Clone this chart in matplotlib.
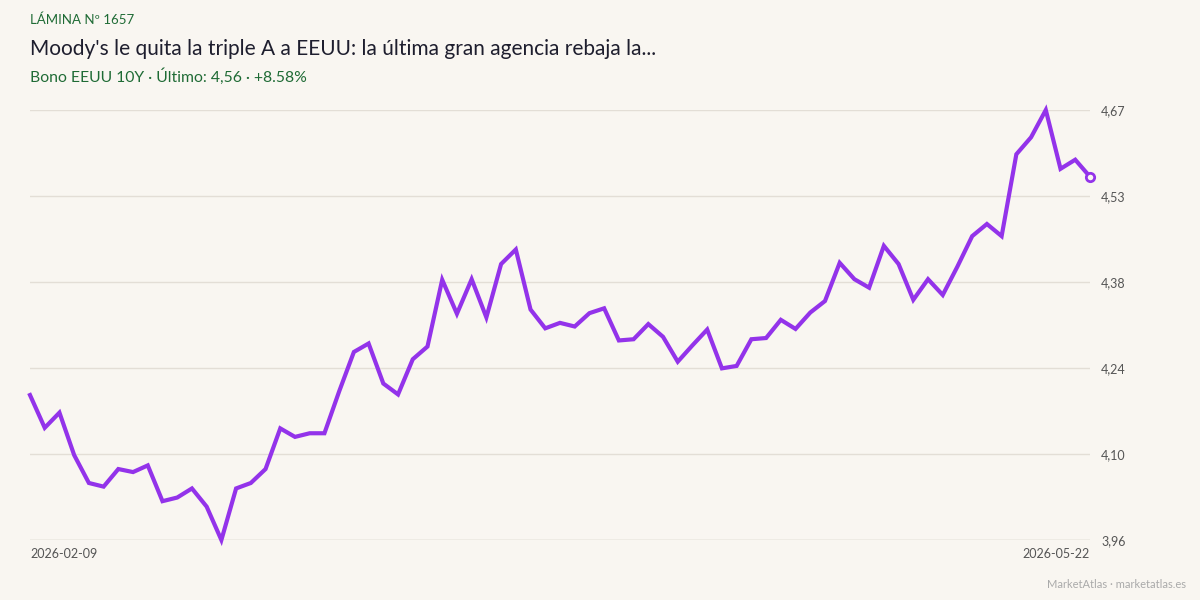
import matplotlib.pyplot as plt
import numpy as np
import pandas as pd

# Bono EEUU 10Y, cierres diarios (dias habiles)
start_date = "2026-02-09"
end_date = "2026-05-22"
holidays = ["2026-02-16", "2026-04-03"]
yields = [
    4.197, 4.143, 4.168, 4.098, 4.052, 4.046, 4.075, 4.070, 4.081, 4.022,
    4.028, 4.043, 4.013, 3.958, 4.043, 4.052, 4.075, 4.142, 4.128, 4.134,
    4.134, 4.203, 4.268, 4.282, 4.216, 4.198, 4.256, 4.277, 4.387, 4.331,
    4.388, 4.325, 4.413, 4.437, 4.338, 4.307, 4.316, 4.310, 4.332, 4.340,
    4.287, 4.289, 4.314, 4.293, 4.252, 4.279, 4.305, 4.241, 4.245, 4.289,
    4.291, 4.321, 4.306, 4.333, 4.352, 4.415, 4.388, 4.374, 4.443, 4.413,
    4.354, 4.388, 4.362, 4.409, 4.459, 4.479, 4.459, 4.594, 4.622, 4.667,
    4.570, 4.585, 4.557,
]

dates = pd.bdate_range(start_date, end_date)
dates = dates[~dates.isin(pd.to_datetime(holidays))]
y = np.array(yields)
x = np.arange(len(y))

bg = "#f9f6f1"
purple = "#9333ea"
green = "#1f6b35"

plt.rcParams["font.family"] = ["Lato", "DejaVu Sans"]

fig = plt.figure(figsize=(12, 6), dpi=100, facecolor=bg)
ax = fig.add_axes([0.025, 0.1, 0.8833, 0.7167], facecolor=bg)

ax.plot(x, y, color=purple, linewidth=3, solid_joinstyle="miter", zorder=3, clip_on=False)
ax.plot(x[-1], y[-1], "o", markersize=6, markerfacecolor=bg,
        markeredgecolor=purple, markeredgewidth=2, zorder=4, clip_on=False)

ymin, ymax = y.min(), y.max()
ax.set_ylim(ymin, ymax)
ax.set_xlim(0, len(y) - 1)
yticks = np.linspace(ymin, ymax, 6)
ax.set_yticks(yticks)
ax.set_yticklabels([f"{t:.2f}".replace(".", ",") for t in yticks])
ax.yaxis.tick_right()
ax.tick_params(axis="y", length=0, pad=8, labelsize=9, labelcolor="#555555")
ax.grid(axis="y", color="#e3ded6", linewidth=1)
ax.set_axisbelow(True)

ax.set_xticks([0, len(y) - 1])
ax.set_xticklabels([dates[0].strftime("%Y-%m-%d"), dates[-1].strftime("%Y-%m-%d")])
ax.tick_params(axis="x", length=0, pad=6, labelsize=9, labelcolor="#555555")
labels = ax.get_xticklabels()
labels[0].set_horizontalalignment("left")
labels[1].set_horizontalalignment("right")

for s in ax.spines.values():
    s.set_visible(False)
ax.axhline(ymin, color="#d9d4cc", linewidth=1, zorder=1)

pct = (y[-1] / y[0] - 1) * 100
fig.text(0.025, 0.967, "LÁMINA Nº 1657", fontsize=9.5, color=green, va="center")
fig.text(0.025, 0.918, "Moody's le quita la triple A a EEUU: la última gran agencia rebaja la...",
         fontsize=15, color="#1e1e2e", va="center")
fig.text(0.025, 0.872, f"Bono EEUU 10Y · Último: {y[-1]:.2f}".replace(".", ",") + f" · +{pct:.2f}%",
         fontsize=11.3, color=green, va="center")
fig.text(0.988, 0.026, "MarketAtlas · marketatlas.es", fontsize=8, color="#aaaaaa",
         ha="right", va="center")

plt.savefig("out.png", dpi=100, facecolor=bg)
